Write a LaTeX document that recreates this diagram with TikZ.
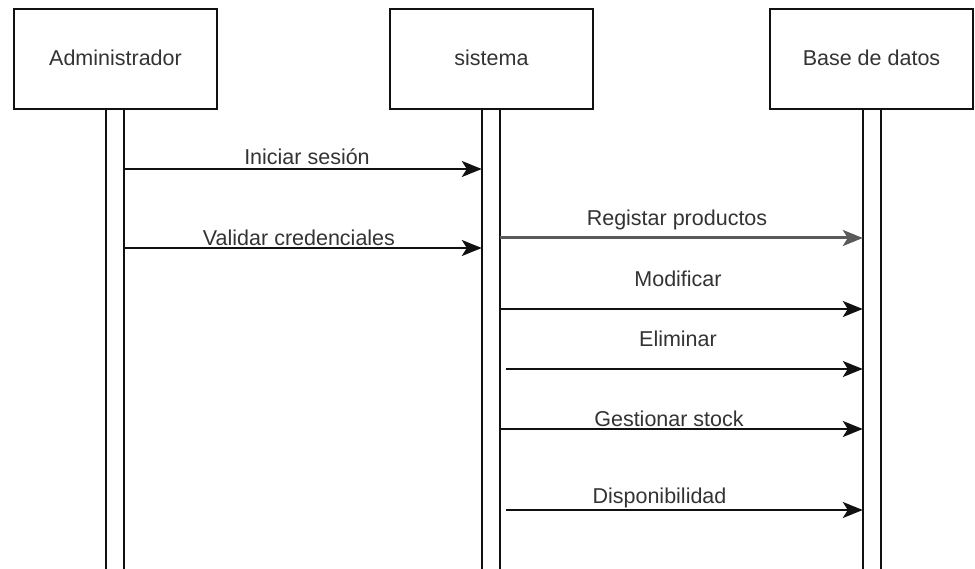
\documentclass[tikz,border=0pt]{standalone}
\usepackage{fontspec}
\setmainfont{Liberation Sans}
\usetikzlibrary{arrows.meta}
\definecolor{inkline}{HTML}{111111}
\definecolor{inktext}{HTML}{333333}
\definecolor{greyline}{HTML}{5A5A5A}
\tikzset{
  actor/.style={draw=inkline, line width=1.5pt, fill=white, minimum width=203pt,
    minimum height=100pt, inner sep=0pt, text=inktext,
    font=\fontsize{21.5}{24}\selectfont, text height=14pt, text depth=0pt},
  lifebar/.style={minimum width=18pt, minimum height=462pt, inner sep=0pt, anchor=north},
  barside/.style={draw=inkline, line width=1.5pt},
  msg/.style={draw=inkline, line width=1.6pt,
    -{Stealth[length=20pt, width=16pt, inset=5pt]}},
  msglabel/.style={anchor=base, text=inktext, inner sep=0pt,
    font=\fontsize{21.5}{24}\selectfont},
}
\begin{document}
\begin{tikzpicture}[x=1pt, y=-1pt]
  \useasboundingbox[fill=white] (0,0) rectangle (975,569);

  % participants
  \node[actor] (adm) at (115.5,59) {Administrador};
  \node[actor] (sis) at (491.5,59) {sistema};
  \node[actor] (bd)  at (871.5,59) {Base de datos};

  % activation bars (open at the bottom edge)
  \node[lifebar] (admbar) at (115,109) {};
  \node[lifebar] (sisbar) at (491,109) {};
  \node[lifebar] (bdbar)  at (872,109) {};
  \foreach \b in {admbar, sisbar, bdbar} {
    \draw[barside] (\b.north west) -- (\b.south west);
    \draw[barside] (\b.north east) -- (\b.south east);
  }

  % message rows
  \coordinate (r1) at (0,169);
  \coordinate (r2) at (0,248);
  \coordinate (r3) at (0,238);
  \coordinate (r4) at (0,309);
  \coordinate (r5) at (0,369);
  \coordinate (r6) at (0,429);
  \coordinate (r7) at (0,510);

  \draw[msg] (admbar.east |- r1) -- (sisbar.west |- r1);
  \draw[msg] (admbar.east |- r2) -- (sisbar.west |- r2);
  \draw[msg, draw=greyline, line width=3pt] (sisbar.east |- r3) -- (bdbar.west |- r3);
  \draw[msg] (sisbar.east |- r4) -- (bdbar.west |- r4);
  \draw[msg] ([xshift=6pt]sisbar.east |- r5) -- (bdbar.west |- r5);
  \draw[msg] (sisbar.east |- r6) -- (bdbar.west |- r6);
  \draw[msg] ([xshift=6pt]sisbar.east |- r7) -- (bdbar.west |- r7);

  % message labels
  \node[msglabel] (l1) at (307,165) {Iniciar sesión};
  \node[msglabel] (l2) at (299,246) {Validar credenciales};
  \node[msglabel] (l3) at (677,226) {Registar productos};
  \node[msglabel] (l4) at (678,287) {Modificar};
  \node[msglabel] (l5) at (678,347) {Eliminar};
  \node[msglabel] (l6) at (669,426) {Gestionar stock};
  \node[msglabel] (l7) at (659.5,503) {Disponibilidad};
\end{tikzpicture}
\end{document}
